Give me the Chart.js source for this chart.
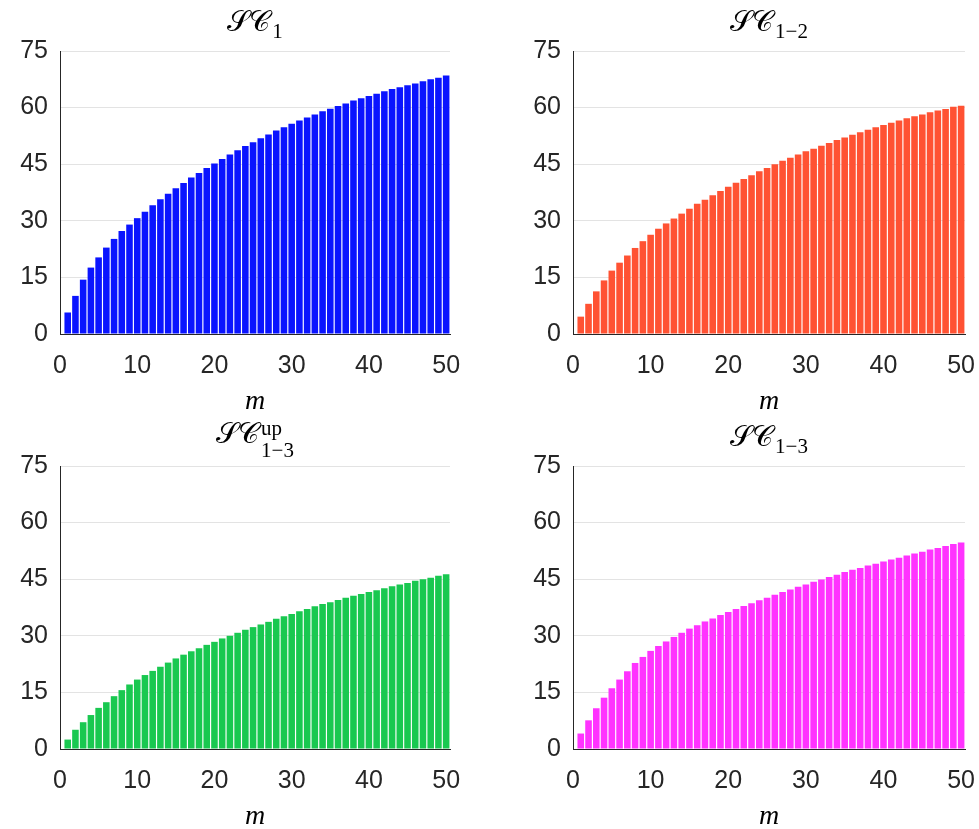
<!DOCTYPE html>
<html>
<head>
<meta charset="utf-8">
<script src="https://cdn.jsdelivr.net/npm/chart.js@4.4.0/dist/chart.umd.min.js"></script>
<style>
  html, body { margin: 0; padding: 0; background: #fff; overflow: hidden; }
  #wrap { position: relative; width: 979px; height: 829px; overflow: hidden; }
  .cell { position: absolute; }
</style>
</head>
<body>
<div id="wrap">
  <div class="cell" style="left:0;top:0"><canvas id="c1" width="489" height="414"></canvas></div>
  <div class="cell" style="left:489px;top:0"><canvas id="c2" width="520" height="414"></canvas></div>
  <div class="cell" style="left:0;top:414px"><canvas id="c3" width="489" height="415"></canvas></div>
  <div class="cell" style="left:489px;top:414px"><canvas id="c4" width="520" height="415"></canvas></div>
</div>
<script>
// m = 1..50
const m = [1, 2, 3, 4, 5, 6, 7, 8, 9, 10, 11, 12, 13, 14, 15, 16, 17, 18, 19, 20,
  21, 22, 23, 24, 25, 26, 27, 28, 29, 30, 31, 32, 33, 34, 35, 36, 37, 38, 39, 40,
  41, 42, 43, 44, 45, 46, 47, 48, 49, 50];

const sc1 = [5.7, 10.1, 14.4, 17.6, 20.3, 22.9, 25.2, 27.3, 29.0, 30.7,
  32.4, 34.1, 35.7, 37.2, 38.6, 40.0, 41.5, 42.7, 44.0, 45.2,
  46.4, 47.6, 48.7, 49.8, 50.8, 51.9, 52.9, 53.9, 54.8, 55.7,
  56.6, 57.4, 58.2, 59.0, 59.7, 60.4, 61.1, 61.9, 62.5, 63.1,
  63.7, 64.3, 64.9, 65.4, 65.9, 66.4, 67.0, 67.5, 67.9, 68.5];

const sc12 = [4.6, 8.0, 11.3, 14.2, 16.8, 18.9, 20.8, 22.8, 24.6, 26.3,
  27.9, 29.3, 30.6, 31.9, 33.2, 34.5, 35.6, 36.8, 37.9, 39.0,
  40.1, 41.1, 42.1, 43.1, 44.0, 45.0, 45.9, 46.7, 47.6, 48.4,
  49.1, 49.9, 50.6, 51.4, 52.1, 52.8, 53.5, 54.1, 54.8, 55.4,
  56.0, 56.6, 57.2, 57.7, 58.2, 58.8, 59.2, 59.6, 60.2, 60.5];

const sc13up = [2.5, 5.1, 7.1, 9.0, 10.9, 12.4, 14.0, 15.6, 17.1, 18.4,
  19.6, 20.7, 21.8, 22.9, 24.0, 25.0, 25.9, 26.7, 27.6, 28.4,
  29.3, 30.0, 30.8, 31.6, 32.3, 33.0, 33.7, 34.5, 35.2, 35.8,
  36.5, 37.1, 37.8, 38.4, 38.9, 39.5, 40.1, 40.6, 41.1, 41.6,
  42.1, 42.6, 43.1, 43.6, 44.0, 44.6, 45.0, 45.4, 45.9, 46.3];

const sc13 = [4.1, 7.6, 10.8, 13.6, 16.1, 18.4, 20.6, 22.8, 24.4, 26.0,
  27.3, 28.5, 29.7, 30.8, 31.9, 32.8, 33.8, 34.6, 35.5, 36.3,
  37.1, 37.9, 38.6, 39.4, 40.1, 40.9, 41.6, 42.3, 43.0, 43.6,
  44.3, 44.9, 45.6, 46.2, 46.9, 47.5, 48.0, 48.6, 49.1, 49.7,
  50.2, 50.7, 51.3, 51.8, 52.3, 52.9, 53.3, 53.8, 54.3, 54.7];

const xTicks = [0, 10, 20, 30, 40, 50];
const yTicks = [0, 15, 30, 45, 60, 75];

const titleMain = ['𝒮𝒞', '𝒮𝒞', '𝒮𝒞', '𝒮𝒞'];
const titleSub = ['1', '1−2', '1−3', '1−3'];
const titleSup = ['', '', 'up', ''];
const xLabel = 'm';

const textColor = '#262626';

// draws the LaTeX-like titles (script letters + sub/superscript)
const mathTitle = {
  id: 'mathTitle',
  afterDraw(chart, args, opts) {
    const ctx = chart.ctx, a = chart.chartArea;
    const cx = (a.left + a.right) / 2;
    const base = a.top - opts.dy;
    ctx.save();
    ctx.fillStyle = '#000';
    ctx.textBaseline = 'alphabetic';
    ctx.textAlign = 'left';
    const big = '29px "DejaVu Serif", "DejaVu Sans", serif';
    const small = '21px "Liberation Serif", serif';
    ctx.font = big;
    const w1 = ctx.measureText(opts.main).width;
    ctx.font = small;
    const ws = opts.sub ? ctx.measureText(opts.sub).width : 0;
    const wu = opts.sup ? ctx.measureText(opts.sup).width : 0;
    const total = w1 + 2 + Math.max(ws, wu);
    let x = cx - total / 2;
    ctx.font = big;
    ctx.fillText(opts.main, x, base);
    x += w1 + 2;
    ctx.font = small;
    const subDrop = opts.sup ? 14 : 7;
    if (opts.sub) ctx.fillText(opts.sub, x, base + subDrop);
    if (opts.sup) ctx.fillText(opts.sup, x, base - 8);
    ctx.restore();
  }
};

function makeChart(id, vals, color, k, box) {
  const data = m.map((x, i) => ({ x: x, y: vals[i] }));
  return new Chart(document.getElementById(id), {
    type: 'bar',
    data: {
      datasets: [{
        data: data,
        backgroundColor: color,
        borderWidth: 0,
        barPercentage: 0.85,
        categoryPercentage: 1.0
      }]
    },
    plugins: [mathTitle],
    options: {
      responsive: false,
      animation: false,
      layout: { padding: { top: box.top, right: box.right, bottom: 0, left: 0 } },
      plugins: {
        legend: { display: false },
        tooltip: { enabled: false },
        mathTitle: { main: titleMain[k], sub: titleSub[k], sup: titleSup[k], dy: box.titleDy }
      },
      scales: {
        x: {
          type: 'linear',
          offset: false,
          min: 0,
          max: 50.5,
          afterFit(s) { s.height = box.xh; },
          afterBuildTicks(s) { s.ticks = xTicks.map(v => ({ value: v })); },
          grid: { display: false, drawTicks: false, offset: false },
          border: { display: true, color: textColor, width: 1 },
          ticks: {
            padding: 17,
            color: textColor,
            font: { family: '"Liberation Sans", Arial, sans-serif', size: 25 },
            maxRotation: 0,
            autoSkip: false
          },
          title: {
            display: true,
            text: xLabel,
            color: '#000',
            font: { family: '"Liberation Serif", serif', style: 'italic', size: 28, lineHeight: 0.85 },
            padding: { top: 0, bottom: 0 }
          }
        },
        y: {
          min: 0,
          max: 75,
          afterFit(s) { s.width = box.yw; },
          afterBuildTicks(s) { s.ticks = yTicks.map(v => ({ value: v })); },
          grid: { color: '#e3e3e3', lineWidth: 1, drawTicks: false },
          border: { display: true, color: textColor, width: 1 },
          ticks: {
            padding: 12,
            color: textColor,
            font: { family: '"Liberation Sans", Arial, sans-serif', size: 25 }
          }
        }
      }
    }
  });
}

makeChart('c1', sc1, '#0a14ff', 0, { top: 51, right: 39, xh: 80, yw: 60, titleDy: 20 });
makeChart('c2', sc12, '#ff5233', 1, { top: 51, right: 44, xh: 80, yw: 84, titleDy: 20 });
makeChart('c3', sc13up, '#19c850', 2, { top: 52, right: 39, xh: 80, yw: 60, titleDy: 23 });
makeChart('c4', sc13, '#ff33ff', 3, { top: 52, right: 44, xh: 80, yw: 84, titleDy: 20 });
</script>
</body>
</html>
